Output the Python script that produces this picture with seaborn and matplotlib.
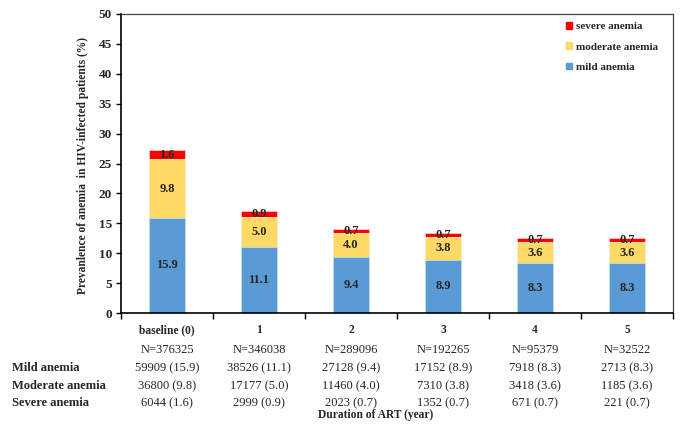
import matplotlib
matplotlib.use("Agg")
import matplotlib.pyplot as plt
import seaborn as sns
import pandas as pd
import numpy as np
from matplotlib.patches import Patch

categories = ["baseline (0)", "1", "2", "3", "4", "5"]
mild = [15.9, 11.1, 9.4, 8.9, 8.3, 8.3]
moderate = [9.8, 5.0, 4.0, 3.8, 3.6, 3.6]
severe = [1.6, 0.9, 0.7, 0.7, 0.7, 0.7]
n_total = ["N=376325", "N=346038", "N=289096", "N=192265", "N=95379", "N=32522"]
mild_counts = ["59909 (15.9)", "38526 (11.1)", "27128 (9.4)", "17152 (8.9)", "7918 (8.3)", "2713 (8.3)"]
moderate_counts = ["36800 (9.8)", "17177 (5.0)", "11460 (4.0)", "7310 (3.8)", "3418 (3.6)", "1185 (3.6)"]
severe_counts = ["6044 (1.6)", "2999 (0.9)", "2023 (0.7)", "1352 (0.7)", "671 (0.7)", "221 (0.7)"]

sns.set_theme(style="white")
plt.rcParams["font.family"] = ["Liberation Serif", "DejaVu Serif"]

c_mild = "#5B9BD5"
c_mod = "#FFD966"
c_sev = "#FF0000"

df = pd.DataFrame({"cat": categories, "mild": mild, "moderate": moderate, "severe": severe})
df["lvl2"] = df["mild"] + df["moderate"]
df["lvl3"] = df["lvl2"] + df["severe"]

W, H = 685.0, 437.0
fig = plt.figure(figsize=(6.85, 4.37), dpi=100)
ax_l, ax_r, ax_t, ax_b = 121, 673, 14, 313
ax = fig.add_axes([ax_l / W, 1 - ax_b / H, (ax_r - ax_l) / W, (ax_b - ax_t) / H])

bw = 0.40
sns.barplot(data=df, x="cat", y="lvl3", color=c_sev, saturation=1, width=bw, ax=ax,
            edgecolor="#ffc8c8", linewidth=0.6)
sns.barplot(data=df, x="cat", y="lvl2", color=c_mod, saturation=1, width=bw, ax=ax,
            edgecolor="#fff3cc", linewidth=0.6)
sns.barplot(data=df, x="cat", y="mild", color=c_mild, saturation=1, width=bw, ax=ax,
            edgecolor="#c0dcf4", linewidth=0.6)

for i in range(len(categories)):
    ax.text(i, mild[i] / 2, f"{mild[i]:.1f}", ha="center", va="center", fontsize=9, fontweight="bold")
    ax.text(i, mild[i] + moderate[i] / 2, f"{moderate[i]:.1f}", ha="center", va="center", fontsize=9, fontweight="bold")
    ax.text(i, mild[i] + moderate[i] + severe[i] / 2, f"{severe[i]:.1f}", ha="center", va="center", fontsize=9, fontweight="bold")

ax.set_ylim(0, 50)
ax.set_xlim(-0.5, 5.5)
ax.set_yticks(range(0, 51, 5))
ax.set_xlabel("")
ax.set_ylabel("")
fig.text(83 / W, 1 - 166 / H, "Prevanlence of anemia  in HIV-infected patients (%)", rotation=90,
         ha="center", va="center", fontsize=8.3, fontweight="bold")
for lab in ax.get_yticklabels():
    lab.set_fontweight("bold")
    lab.set_fontsize(9.5)
for lab in ax.get_xticklabels():
    lab.set_fontweight("bold")
    lab.set_fontsize(8.3)
ax.tick_params(axis="x", which="major", length=0, pad=8)
ax.set_xticks(np.arange(-0.5, 6.0, 1.0), minor=True)
ax.tick_params(axis="x", which="minor", length=4, width=1, color="black", direction="out", bottom=True)
ax.tick_params(axis="y", which="major", length=3.5, width=1, color="black", direction="out", left=True, pad=3)

for s in ["left", "bottom"]:
    ax.spines[s].set_color("black")
    ax.spines[s].set_linewidth(1.2)
for s in ["top", "right"]:
    ax.spines[s].set_color("#444444")
    ax.spines[s].set_linewidth(0.9)

handles = [Patch(color=c_sev, label="severe anemia"),
           Patch(color=c_mod, label="moderate anemia"),
           Patch(color=c_mild, label="mild anemia")]
leg = ax.legend(handles=handles, loc="upper left", frameon=False, fontsize=8,
                handlelength=0.55, handleheight=0.55, handletextpad=0.35, labelspacing=1.0,
                bbox_to_anchor=((566 - ax_l) / (ax_r - ax_l), 1 - (22 - ax_t) / (ax_b - ax_t)),
                borderaxespad=0, borderpad=0)
for t in leg.get_texts():
    t.set_fontweight("bold")

# table below
row_labels = ["", "Mild anemia", "Moderate anemia", "Severe anemia"]
rows = [n_total, mild_counts, moderate_counts, severe_counts]
row_y = [350, 368, 386, 403]
for lab, vals, yp in zip(row_labels, rows, row_y):
    yf = 1 - yp / H
    if lab:
        fig.text(12 / W, yf, lab, ha="left", va="center", fontsize=9, fontweight="bold")
    for i, v in enumerate(vals):
        xd = ax.transData.transform((i, 0))[0]
        xf = fig.transFigure.inverted().transform((xd, 0))[0]
        fig.text(xf, yf, v, ha="center", va="center", fontsize=9)

fig.text(376 / W, 1 - 415 / H, "Duration of ART (year)", ha="center", va="center",
         fontsize=8.3, fontweight="bold")

fig.savefig("out.png", dpi=100)
